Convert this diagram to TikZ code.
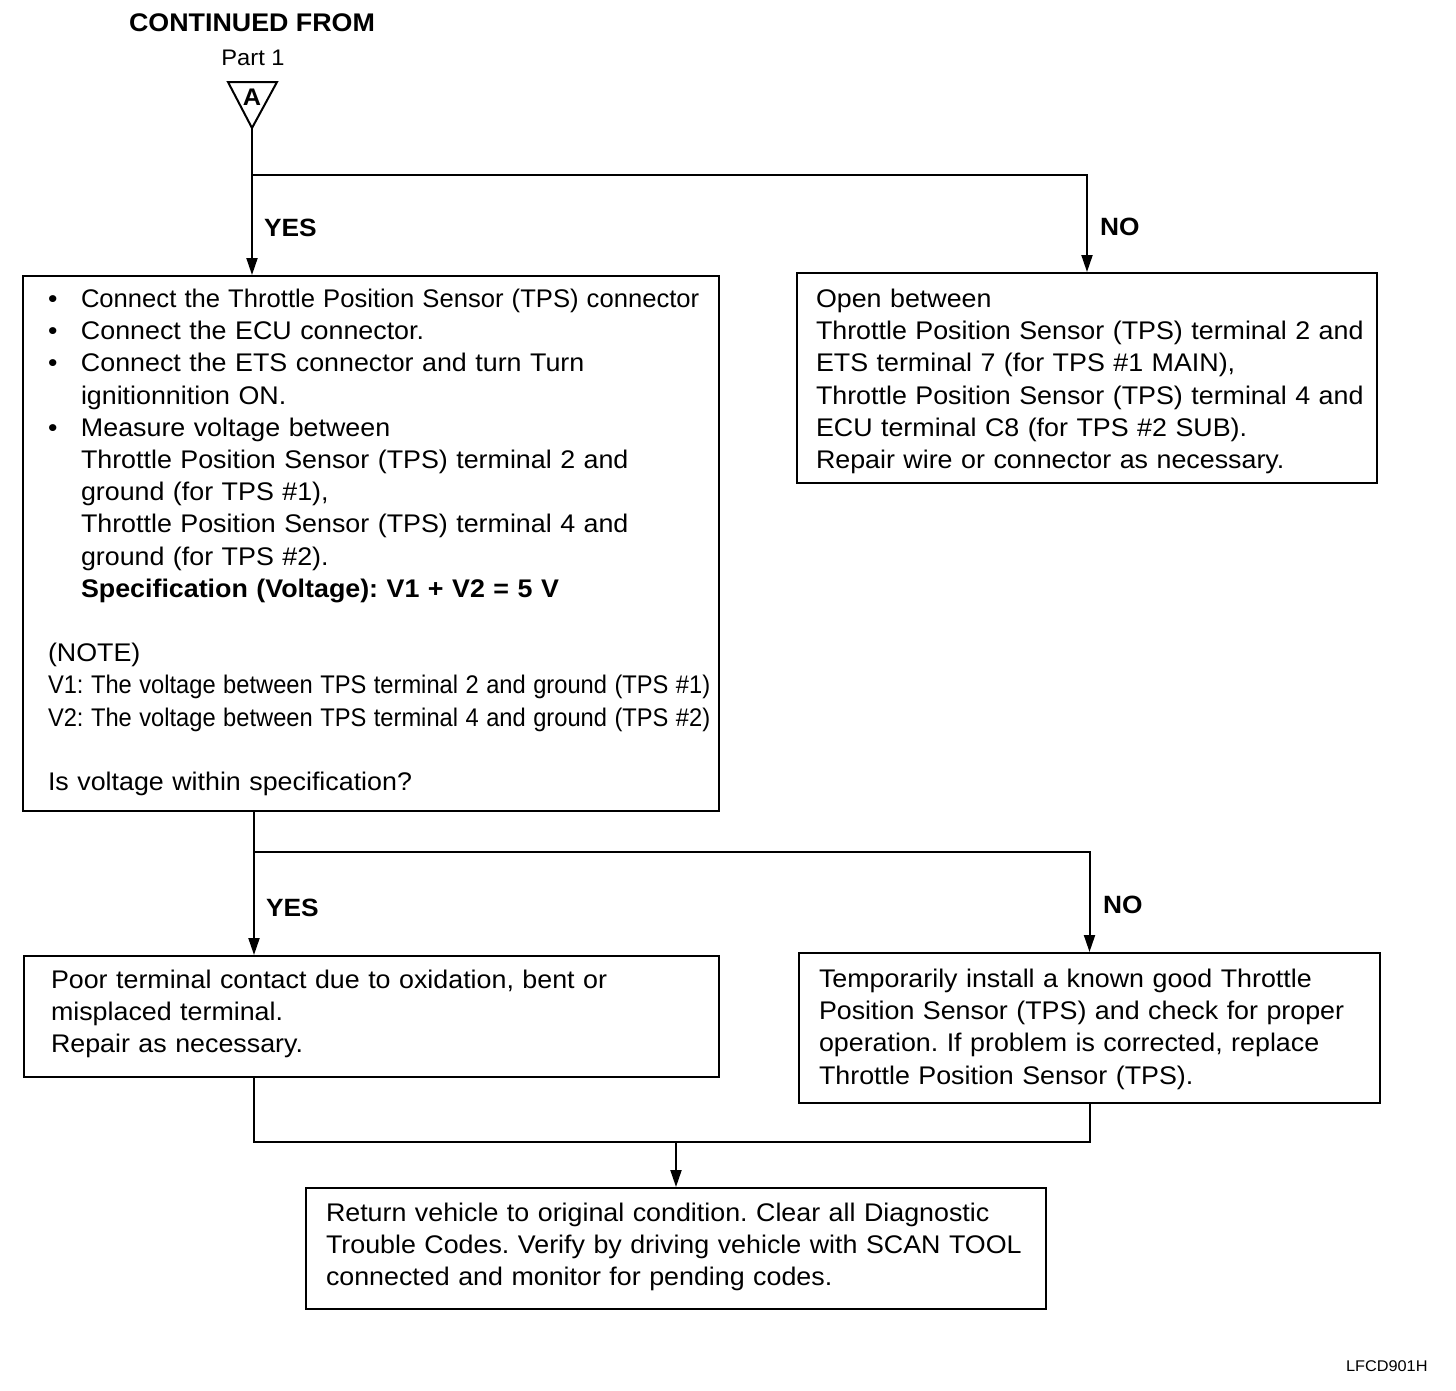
\documentclass[tikz,border=0pt]{standalone}
\usepackage{fontspec}
\usepackage{graphicx}
\setmainfont[FakeStretch=1.052]{Liberation Sans}
\usetikzlibrary{arrows.meta}
\frenchspacing
\begin{document}
\begin{tikzpicture}[x=1pt,y=-1pt,
  line width=2pt,
  box/.style={draw, line width=2pt, inner sep=0pt, anchor=north west},
  txt/.style={inner sep=0pt, anchor=north west, align=left, text width=720pt,
    font=\fontsize{25.5}{32.2}\selectfont},
  lbl/.style={inner sep=0pt, anchor=west, font=\fontsize{25}{30}\selectfont\bfseries},
  arr/.style={-{Triangle[length=17pt,width=11pt]}, line width=2pt}
]
\useasboundingbox[fill=white] (0,0) rectangle (1456,1390);

% header
\node[inner sep=0pt, font=\fontsize{25.5}{30}\selectfont\bfseries] (cont) at (252,23) {CONTINUED FROM};
\node[inner sep=0pt, font=\fontsize{22.5}{26}\selectfont] (part) at (253,58) {Part 1};
\draw[line width=2pt, line join=miter] (228,82) -- (277,82) -- (252,128) -- cycle;
\node[inner sep=0pt, font=\fontsize{24}{26}\selectfont\bfseries] (triA) at (252,97) {A};
\coordinate (apex) at (252,128);
\coordinate (s1) at (252,175);

% boxes
\node[box, minimum width=696pt, minimum height=535pt] (b1) at (22,275) {};
\node[box, minimum width=580pt, minimum height=210pt] (b2) at (796,272) {};
\node[box, minimum width=695pt, minimum height=121pt] (b3) at (23,955) {};
\node[box, minimum width=581pt, minimum height=150pt] (b4) at (798,952) {};
\node[box, minimum width=740pt, minimum height=121pt] (b5) at (305,1187) {};

% texts
\node[txt] (t1) at (47,288) {%
\makebox[33pt][l]{\textbullet}\scalebox{0.955}[1]{Connect the Throttle Position Sensor (TPS) connector}\\
\makebox[33pt][l]{\textbullet}Connect the ECU connector.\\
\makebox[33pt][l]{\textbullet}Connect the ETS connector and turn Turn\\
\hspace*{33pt}ignitionnition ON.\\
\makebox[33pt][l]{\textbullet}Measure voltage between\\
\hspace*{33pt}Throttle Position Sensor (TPS) terminal 2 and\\
\hspace*{33pt}ground (for TPS \#1),\\
\hspace*{33pt}Throttle Position Sensor (TPS) terminal 4 and\\
\hspace*{33pt}ground (for TPS \#2).\\
\hspace*{33pt}{\bfseries Specification (Voltage): V1 + V2 = 5 V}\\[32.2pt]
(NOTE)\\
\scalebox{0.883}[1]{V1: The voltage between TPS terminal 2 and ground (TPS \#1)}\\
\scalebox{0.883}[1]{V2: The voltage between TPS terminal 4 and ground (TPS \#2)}\\[32.2pt]
Is voltage within specification?};

\node[txt] (t2) at (815,288) {%
Open between\\
Throttle Position Sensor (TPS) terminal 2 and\\
ETS terminal 7 (for TPS \#1 MAIN),\\
Throttle Position Sensor (TPS) terminal 4 and\\
ECU terminal C8 (for TPS \#2 SUB).\\
Repair wire or connector as necessary.};

\node[txt] (t3) at (50,969) {%
Poor terminal contact due to oxidation, bent or\\
misplaced terminal.\\
Repair as necessary.};

\node[txt] (t4) at (818,968) {%
Temporarily install a known good Throttle\\
Position Sensor (TPS) and check for proper\\
operation. If problem is corrected, replace\\
Throttle Position Sensor (TPS).};

\node[txt] (t5) at (325,1202) {%
Return vehicle to original condition. Clear all Diagnostic\\
Trouble Codes. Verify by driving vehicle with SCAN TOOL\\
connected and monitor for pending codes.};

\node[inner sep=0pt, anchor=west, font=\fontsize{15.5}{18}\selectfont] (code) at (1345,1366) {LFCD901H};

% labels
\node[lbl] (yes1) at (263,228) {YES};
\node[lbl] (no1) at (1099,227) {NO};
\node[lbl] (yes2) at (265,908) {YES};
\node[lbl] (no2) at (1102,905) {NO};

% connectors
\draw[arr] (apex) -- (apex |- b1.north);
\draw[arr] (s1) -| (b2.north);

\coordinate (d1) at (254,810);
\coordinate (s2) at (254,852);
\draw[arr] (d1) -- (d1 |- b3.north);
\draw[arr] (s2) -| (b4.north);

\coordinate (d3) at (254,1076);
\coordinate (m1) at (254,1142);
\coordinate (m2) at (b4.south |- m1);
\coordinate (m3) at (b5.north |- m1);
\draw (d3) -- (m1) -- (m2) -- (b4.south);
\draw[arr] (m3) -- (b5.north);
\end{tikzpicture}
\end{document}
